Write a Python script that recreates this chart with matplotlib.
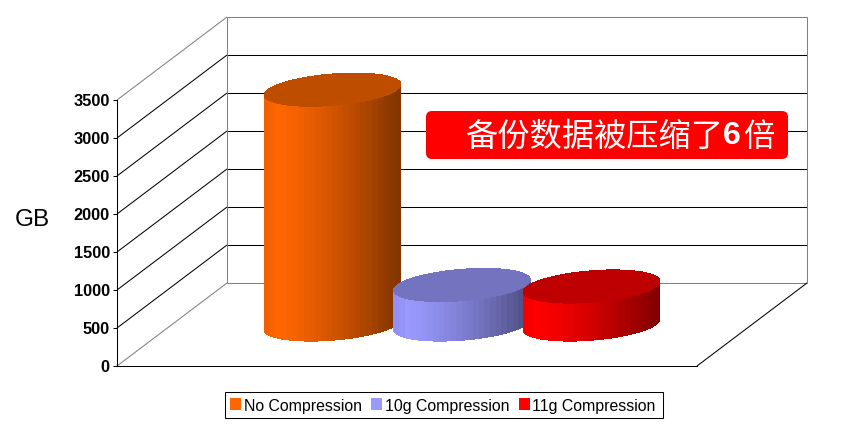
import numpy as np
import matplotlib
matplotlib.use('Agg')
import matplotlib.pyplot as plt
from matplotlib.patches import FancyBboxPatch, Patch, Polygon
from matplotlib.transforms import IdentityTransform

plt.rcParams['font.family'] = ['Liberation Sans', 'DejaVu Sans']

series = ['No Compression', '10g Compression', '11g Compression']
values = [3090, 520, 500]
colors = ['#ff6600', '#9999ff', '#ff0000']
yticks = [0, 500, 1000, 1500, 2000, 2500, 3000, 3500]

W, H = 856, 429
# front plane of the 3d box, in pixels
left, right, front, top = 117, 697, 366, 100
depth_x, depth_px = 110, 83
depth_val = depth_px * 3500 / (front - top)
slot = 129.5   # width of one cylinder
r_depth = 0.2  # cylinder radius in depth units

fig = plt.figure(figsize=(W / 100, H / 100), dpi=100)
ax = fig.add_axes([left / W, (H - front) / H, (right - left) / W, (front - top) / H])
ax.set_xlim(0, right - left)
ax.set_ylim(0, 3500)
ax.patch.set_alpha(0)
for s in ['top', 'right']:
    ax.spines[s].set_visible(False)
for s in ['left', 'bottom']:
    ax.spines[s].set_linewidth(0.75)
ax.set_xticks([])
ax.set_yticks(yticks)
ax.tick_params(axis='y', length=3.2, width=0.75, pad=2)
for lab in ax.get_yticklabels():
    lab.set_fontsize(11.8)
    lab.set_fontweight('bold')


def proj(x, d, v):
    return x + depth_x * d, v + depth_val * d


def line(x, d, v, color):
    px, py = proj(np.array(x, float), np.array(d, float), np.array(v, float))
    ax.plot(px, py, color=color, lw=0.75, clip_on=False, zorder=1, solid_capstyle='butt')


xmax = right - left
for v in yticks:
    c = '#808080' if v in (0, 3500) else 'black'
    line([0, 0], [0, 1], [v, v], c)
    line([0, xmax], [1, 1], [v, v], c)
line([0, 0], [1, 1], [0, 3500], '#808080')
line([xmax, xmax], [1, 1], [0, 3500], '#808080')
line([xmax, xmax], [0, 1], [0, 0], 'black')


def shade(u):
    # brightness across the cylinder, brightest a little right of the left edge
    if u < 0.1:
        return 0.93 + 0.07 * u / 0.1
    return 1.0 - 0.5 * ((u - 0.1) / 0.9) ** 1.3


def cylinder(cx, value, color):
    base = np.array(matplotlib.colors.to_rgb(color))
    R = slot / 2
    S = depth_x * r_depth
    t0 = np.arctan2(S, R)
    n = 24
    us = np.linspace(0, 1, n + 1)
    ts = t0 + 2 * np.pi - np.arccos(2 * us - 1)
    for i in range(n):
        tt = np.linspace(ts[i], ts[i + 1], 6)
        x = cx + R * np.cos(tt)
        d = 0.5 + r_depth * np.sin(tt)
        x0, y0 = proj(x, d, 0)
        x1, y1 = proj(x, d, value)
        pts = np.r_[np.c_[x0, y0], np.c_[x1, y1][::-1]]
        col = base * shade((us[i] + us[i + 1]) / 2)
        ax.add_patch(Polygon(pts, closed=True, fc=col, ec='none', lw=0, antialiased=False,
                             clip_on=False, zorder=3))
    tt = np.linspace(0, 2 * np.pi, 120)
    x = cx + R * np.cos(tt)
    d = 0.5 + r_depth * np.sin(tt)
    px, py = proj(x, d, value)
    ax.add_patch(Polygon(np.c_[px, py], closed=True, fc=base * 0.75, ec='none', lw=0,
                         antialiased=False, clip_on=False, zorder=3))


for i, (val, col) in enumerate(zip(values, colors)):
    cylinder(xmax / 2 + (i - 1) * slot, val, col)

fig.text(32 / W, (H - 220) / H, 'GB', fontsize=17.5, ha='center', va='center')

# red note box, placed in pixels
px = IdentityTransform()
fig.add_artist(FancyBboxPatch((431, H - 154), 352, 38, boxstyle='round,pad=5,rounding_size=6',
                              fc='#ff0000', ec='none', transform=px, zorder=5))
note = dict(color='white', va='center', transform=px, zorder=6)
fig.text(465, H - 137, '备份数据被压缩了', fontsize=23.2, ha='left',
         family=['Noto Sans CJK SC', 'DejaVu Sans'], **note)
fig.text(732, H - 136, '6', fontsize=23, ha='center', fontweight='bold', **note)
fig.text(743, H - 137, '倍', fontsize=22.6, ha='left',
         family=['Noto Sans CJK SC', 'DejaVu Sans'], **note)

handles = [Patch(fc=c, ec='none', label=s) for s, c in zip(series, colors)]
leg = fig.legend(handles=handles, loc='center', bbox_to_anchor=(444 / W, (H - 405) / H), ncol=3,
                 fontsize=11.4, frameon=True, fancybox=False, edgecolor='black', framealpha=1,
                 handlelength=0.7, handleheight=0.7, handletextpad=0.3, columnspacing=0.45,
                 borderpad=0.35, borderaxespad=0)
leg.get_frame().set_linewidth(0.75)
for t in leg.get_texts():
    t.set_position((-2, -1))

fig.savefig('out.png', dpi=100)
